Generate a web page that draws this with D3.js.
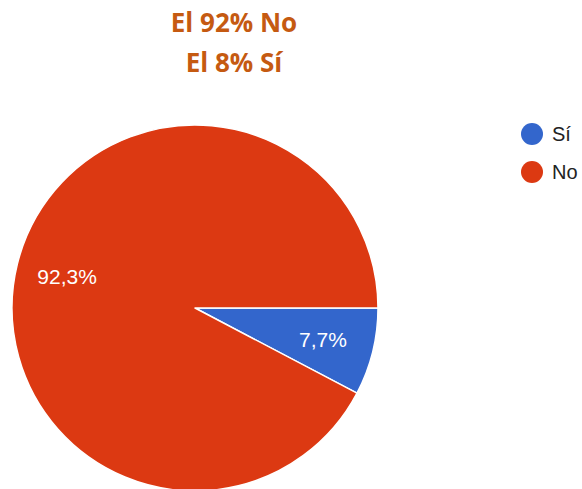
<!DOCTYPE html>
<html>
<head>
<meta charset="utf-8">
<script src="https://cdn.jsdelivr.net/npm/d3@7"></script>
<style>
  html, body { margin: 0; padding: 0; background: #fff; }
  svg { display: block; }
</style>
</head>
<body>
<script>
// Survey answers and their shares (percent)
const categories = ["Sí", "No"];
const values = [7.7, 92.3];
const colors = ["#3366cc", "#dc3912"];
const titleLines = ["El 92% No", "El 8% Sí"];

const W = 582, H = 489;
const cx = 195, cy = 308, R = 183;

const svg = d3.select("body").append("svg")
  .attr("width", W).attr("height", H);

// Title
svg.append("g").selectAll("text")
  .data(titleLines)
  .join("text")
  .attr("x", 234)
  .attr("y", (d, i) => 32 + i * 40)
  .attr("text-anchor", "middle")
  .attr("font-family", "'Open Sans', sans-serif")
  .attr("font-weight", 700)
  .attr("font-size", 26)
  .attr("fill", "#c55a11")
  .text(d => d);

const data = categories.map((c, i) => ({ label: c, value: values[i], color: colors[i] }));

// Slices start at 3 o'clock and run clockwise
const pie = d3.pie()
  .value(d => d.value)
  .sort(null)
  .startAngle(Math.PI / 2)
  .endAngle(Math.PI / 2 + 2 * Math.PI);

const arc = d3.arc().innerRadius(0).outerRadius(R);
const labelArc = d3.arc().innerRadius(R * 0.72).outerRadius(R * 0.72);

const g = svg.append("g").attr("transform", `translate(${cx},${cy})`);
const arcs = pie(data);

g.selectAll("path")
  .data(arcs)
  .join("path")
  .attr("d", arc)
  .attr("fill", d => d.data.color)
  .attr("stroke", "#fff")
  .attr("stroke-width", 1.5)
  .attr("stroke-linejoin", "round");

const fmt = v => v.toFixed(1).replace(".", ",") + "%";

g.selectAll("text.pct")
  .data(arcs)
  .join("text")
  .attr("class", "pct")
  .attr("transform", d => `translate(${labelArc.centroid(d)})`)
  .attr("text-anchor", "middle")
  .attr("dy", "0.36em")
  .attr("font-family", "'Liberation Sans', Arial, sans-serif")
  .attr("font-size", 21)
  .attr("fill", "#fff")
  .text(d => fmt(d.data.value));

// Legend
const legend = svg.append("g").selectAll("g")
  .data(data)
  .join("g")
  .attr("transform", (d, i) => `translate(532,${134 + i * 38})`);

legend.append("circle")
  .attr("r", 11)
  .attr("fill", d => d.color);

legend.append("text")
  .attr("x", 20)
  .attr("dy", "0.36em")
  .attr("font-family", "'Liberation Sans', Arial, sans-serif")
  .attr("font-size", 20)
  .attr("fill", "#222")
  .text(d => d.label);
</script>
</body>
</html>
